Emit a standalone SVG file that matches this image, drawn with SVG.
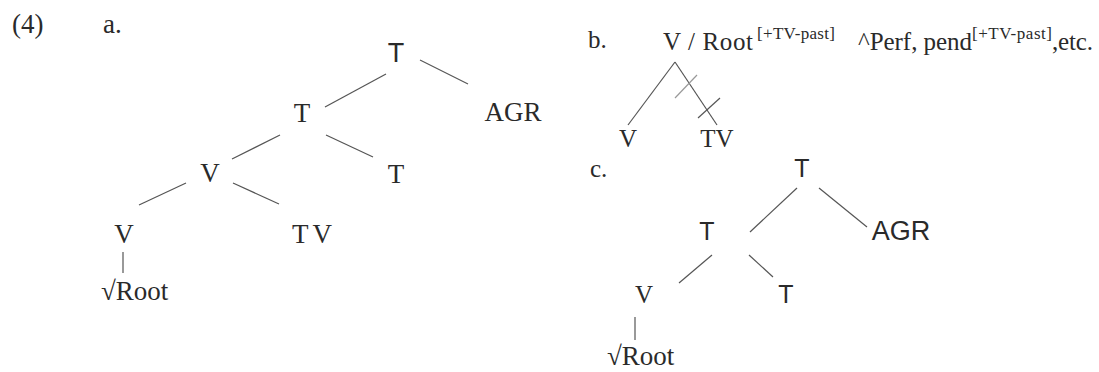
<svg xmlns="http://www.w3.org/2000/svg" width="1099" height="372" viewBox="0 0 1099 372">
<style>
text{font-family:"Liberation Serif","Times New Roman",serif;fill:#2a2a2a;font-size:27px}
.s{font-family:"Liberation Sans",Arial,sans-serif}
.m{text-anchor:middle}
.sup{font-size:17px}
.b{font-size:25px}
.c{font-size:25px}
#connectors line{stroke:#555;stroke-width:1.2;fill:none}
#connectors line.x{stroke:#999}
</style>
<rect width="1099" height="372" fill="#fff"/>
<g id="labels">
<text x="12" y="33" font-size="26">(4)</text>
<text x="103" y="33" font-size="24">a.</text>
<text x="588" y="48" class="b">b.</text>
<text x="590" y="177" class="c">c.</text>
</g>
<g id="connectors">
<line x1="420" y1="60" x2="468" y2="84"/>
<line x1="386" y1="74" x2="325" y2="107"/>
<line x1="280" y1="135" x2="232" y2="159"/>
<line x1="326" y1="135" x2="373" y2="157"/>
<line x1="186" y1="183" x2="139" y2="205"/>
<line x1="233" y1="183" x2="279" y2="204"/>
<line x1="123" y1="252" x2="123" y2="273"/>
<line x1="675" y1="62" x2="628" y2="125"/>
<line x1="675" y1="62" x2="717" y2="125"/>
<line class="x" x1="675" y1="98" x2="697" y2="75"/>
<line x1="698" y1="118" x2="720" y2="98"/>
<line x1="797" y1="188" x2="750" y2="232"/>
<line x1="819" y1="188" x2="867" y2="227"/>
<line x1="712" y1="255" x2="679" y2="283"/>
<line x1="749" y1="255" x2="773" y2="277"/>
<line x1="635" y1="317" x2="635" y2="340"/>
</g>
<g id="a-T-root"><text class="m s" x="396" y="62">T</text></g>
<g id="a-T-mid"><text class="m" x="302" y="122">T</text></g>
<g id="a-AGR"><text class="m" x="513" y="121">AGR</text></g>
<g id="a-V-mid"><text class="m" x="210" y="182">V</text></g>
<g id="a-T-right"><text class="m" x="396" y="183">T</text></g>
<g id="a-V-low"><text class="m" x="124" y="243">V</text></g>
<g id="a-TV"><text class="m" x="312" y="243" textLength="40">TV</text></g>
<g id="a-Root"><text x="101" y="300" font-size="28">√Root</text></g>
<g id="b-top"><text x="663" y="50" class="b" textLength="90">V / Root</text><text x="757" y="39" class="sup" textLength="78">[+TV-past]</text><text x="858" y="50" class="b" textLength="114">^Perf, pend</text><text x="972" y="39" class="sup" textLength="80">[+TV-past]</text><text x="1052" y="50" class="b" textLength="41">,etc.</text></g>
<g id="b-V"><text class="m b" x="628" y="147">V</text></g>
<g id="b-TV"><text class="m b" x="717" y="147">TV</text></g>
<g id="c-T-root"><text class="m s c" x="802" y="177">T</text></g>
<g id="c-T-mid"><text class="m s c" x="707" y="240">T</text></g>
<g id="c-AGR"><text class="m s" x="901" y="240" font-size="26">AGR</text></g>
<g id="c-V"><text class="m c" x="644" y="303">V</text></g>
<g id="c-T-right"><text class="m s c" x="786" y="303">T</text></g>
<g id="c-Root"><text x="607" y="365" font-size="27">√Root</text></g>
</svg>
